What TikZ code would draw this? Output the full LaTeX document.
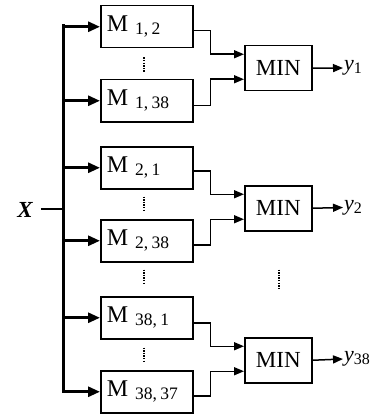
\documentclass[tikz,border=0pt]{standalone}
\usepackage{fontspec}
\setmainfont{Liberation Serif}
\usetikzlibrary{arrows.meta,calc}
\newcommand\mlab[1]{{\fontsize{24}{24}\selectfont M}\hspace{7pt}\raisebox{-3pt}{\fontsize{17.5}{17.5}\selectfont #1}}
\newcommand\ylab[1]{{\fontsize{22}{22}\selectfont\itshape y}\raisebox{-3pt}{\fontsize{16}{16}\selectfont #1}}
\begin{document}
\begin{tikzpicture}[x=1pt,y=-1pt,
 mbox/.style={draw,line width=1.5pt,minimum width=92pt,minimum height=42pt,anchor=north west,text width=80pt,inner xsep=6pt,inner ysep=0pt,align=left},
 minbox/.style={draw,line width=1.5pt,minimum width=67pt,minimum height=45pt,anchor=north west,inner sep=0pt,font=\fontsize{23}{23}\selectfont},
 ylabel/.style={anchor=west,inner sep=1pt},
 bus/.style={line width=3pt,line cap=rect},
 busarrow/.style={line width=2.8pt,-{Triangle[length=12pt,width=10pt]}},
 link/.style={line width=1.5pt,-{Triangle[length=10pt,width=8pt]}},
 vdots/.style={line width=2pt,dash pattern=on 1.4pt off 1.2pt},
]
\useasboundingbox (0,0) rectangle (380,417);
% M boxes
\node[mbox] (m12) at (100,5) {\mlab{1, 2}};
\node[mbox] (m138) at (100,79) {\mlab{1, 38}};
\node[mbox] (m21) at (100,146) {\mlab{2, 1}};
\node[mbox] (m238) at (100,219) {\mlab{2, 38}};
\node[mbox] (m381) at (100,296) {\mlab{38, 1}};
\node[mbox] (m3837) at (100,370) {\mlab{38, 37}};
% MIN boxes
\node[minbox] (min1) at (244,45) {MIN};
\node[minbox] (min2) at (244,185) {MIN};
\node[minbox] (min3) at (244,337) {MIN};
% outputs
\node[ylabel] (y1) at (343,68) {\ylab{1}};
\node[ylabel] (y2) at (343,207.5) {\ylab{2}};
\node[ylabel] (y38) at (343,359) {\ylab{38}};
% input X
\node[font=\fontsize{23}{23}\selectfont\bfseries\itshape, inner sep=0pt] (X) at (25,210) {X};
\coordinate (bt) at (63,26);
\coordinate (xj) at (63,209);
% bus
\draw[bus] (bt) -- (bt |- m3837.west);
\draw[line width=2.4pt] ([xshift=8pt]X.east |- xj) -- (xj);
\foreach \m in {m12,m138,m21,m238,m381,m3837}
  \draw[busarrow] (bt |- \m.west) -- (\m.west);
% links to MIN
\draw[link] ([yshift=-4pt]m12.east) -- ++(17,0) |- ([yshift=14pt]min1.west);
\draw[link] ([yshift=-5pt]m138.east) -- ++(17,0) |- ([yshift=-11pt]min1.west);
\draw[link] ([yshift=-3pt]m21.east) -- ++(17,0) |- ([yshift=14pt]min2.west);
\draw[link] ([yshift=-4pt]m238.east) -- ++(17,0) |- ([yshift=-11pt]min2.west);
\draw[link] ([yshift=-5pt]m381.east) -- ++(17,0) |- ([yshift=14pt]min3.west);
\draw[link] ([yshift=-4pt]m3837.east) -- ++(17,0) |- ([yshift=-11pt]min3.west);
% outputs
\draw[link] (min1.east) -- (y1.west);
\draw[link] (min2.east) -- (y2.west);
\draw[link] (min3.east) -- (y38.west);
% dots
\draw[vdots, shorten <=9pt, shorten >=7pt] ([xshift=-3pt]m12.south) -- ([xshift=-3pt]m138.north);
\draw[vdots, shorten <=7pt, shorten >=7pt] ([xshift=-3pt]m21.south) -- ([xshift=-3pt]m238.north);
\draw[vdots, shorten <=7pt, shorten >=11pt] ([xshift=-3pt]m238.south) -- ([xshift=-3pt]m381.north);
\draw[vdots, shorten <=8pt, shorten >=9pt] ([xshift=-3pt]m381.south) -- ([xshift=-3pt]m3837.north);
\draw[vdots, shorten <=38pt, shorten >=47pt] ([xshift=1pt]min2.south) -- ([xshift=1pt]min3.north);
\end{tikzpicture}
\end{document}
